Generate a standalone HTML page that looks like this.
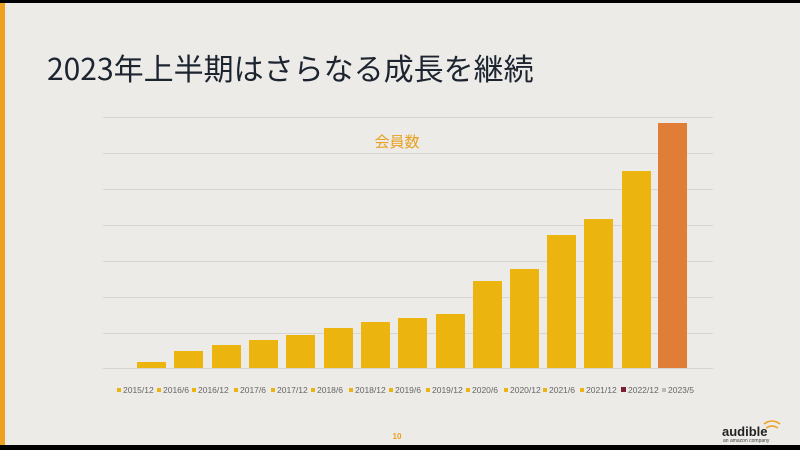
<!DOCTYPE html>
<html><head><meta charset="utf-8"><style>
body{margin:0;width:800px;height:450px;overflow:hidden;background:#000;font-family:"Liberation Sans","Noto Sans CJK JP",sans-serif}
#s{position:absolute;left:0;top:3px;width:800px;height:442px;background:#ecebe8}
#o{position:absolute;left:0;top:3px;width:5px;height:442px;background:#f0a020}
h1{position:absolute;left:47px;top:45px;margin:0;font-weight:400;font-size:30px;color:#1c2430;font-family:"Noto Sans CJK JP",sans-serif;letter-spacing:0}
</style></head><body>
<div id="s"></div><div id="o"></div>
<h1>2023年上半期はさらなる成長を継続</h1>
<svg width="800" height="450" style="position:absolute;left:0;top:0">
<g stroke="#d8d6d2" stroke-width="1">
<line x1="103" x2="713" y1="117.5" y2="117.5"/><line x1="103" x2="713" y1="153.5" y2="153.5"/>
<line x1="103" x2="713" y1="189.5" y2="189.5"/><line x1="103" x2="713" y1="225.5" y2="225.5"/>
<line x1="103" x2="713" y1="261.5" y2="261.5"/><line x1="103" x2="713" y1="297.5" y2="297.5"/>
<line x1="103" x2="713" y1="333.5" y2="333.5"/><line x1="103" x2="713" y1="368.5" y2="368.5"/>
</g>
<text x="397" y="147" font-size="15" fill="#e8a020" text-anchor="middle" font-family="Noto Sans CJK JP,sans-serif">会員数</text>
<g fill="#ebb40f">
<rect x="137" y="362" width="29" height="6"/><rect x="174" y="351" width="29" height="17"/>
<rect x="212" y="345" width="29" height="23"/><rect x="249" y="340" width="29" height="28"/>
<rect x="286" y="335" width="29" height="33"/><rect x="324" y="328" width="29" height="40"/>
<rect x="361" y="322" width="29" height="46"/><rect x="398" y="318" width="29" height="50"/>
<rect x="436" y="314" width="29" height="54"/><rect x="473" y="281" width="29" height="87"/>
<rect x="510" y="269" width="29" height="99"/><rect x="547" y="235" width="29" height="133"/>
<rect x="584" y="219" width="29" height="149"/><rect x="622" y="171" width="29" height="197"/>
</g>
<rect x="658" y="123" width="29" height="245" fill="#e07e38"/>
<g font-size="8.5" fill="#666">
<g fill="#ebb40f"><rect x="117" y="388" width="4" height="4"/><rect x="157" y="388" width="4" height="4"/><rect x="192" y="388" width="4" height="4"/><rect x="234" y="388" width="4" height="4"/><rect x="271" y="388" width="4" height="4"/><rect x="311" y="388" width="4" height="4"/><rect x="349" y="388" width="4" height="4"/><rect x="389" y="388" width="4" height="4"/><rect x="426" y="388" width="4" height="4"/><rect x="466" y="388" width="4" height="4"/><rect x="504" y="388" width="4" height="4"/><rect x="543" y="388" width="4" height="4"/><rect x="580" y="388" width="4" height="4"/></g>
<rect x="621" y="387" width="5" height="5" fill="#7a2030"/><rect x="662" y="388" width="4" height="4" fill="#bbb"/>
<text x="123" y="393">2015/12</text><text x="163" y="393">2016/6</text><text x="198" y="393">2016/12</text><text x="240" y="393">2017/6</text><text x="277" y="393">2017/12</text><text x="317" y="393">2018/6</text><text x="355" y="393">2018/12</text><text x="395" y="393">2019/6</text><text x="432" y="393">2019/12</text><text x="472" y="393">2020/6</text><text x="510" y="393">2020/12</text><text x="549" y="393">2021/6</text><text x="586" y="393">2021/12</text><text x="628" y="393">2022/12</text><text x="668" y="393">2023/5</text>
</g>
<text x="397" y="439" font-size="8" fill="#e8a020" text-anchor="middle" font-weight="bold">10</text>
<text x="722" y="436" font-size="13" fill="#222" font-weight="bold">audible</text>
<text x="723" y="442" font-size="5" fill="#444">an amazon company</text>
<path d="M764 424 q8 -6 16 0 M766 428 q6 -4 12 0" stroke="#f0a020" stroke-width="1.5" fill="none"/>
<rect x="0" y="445" width="800" height="5" fill="#000"/>
</svg>
</body></html>
